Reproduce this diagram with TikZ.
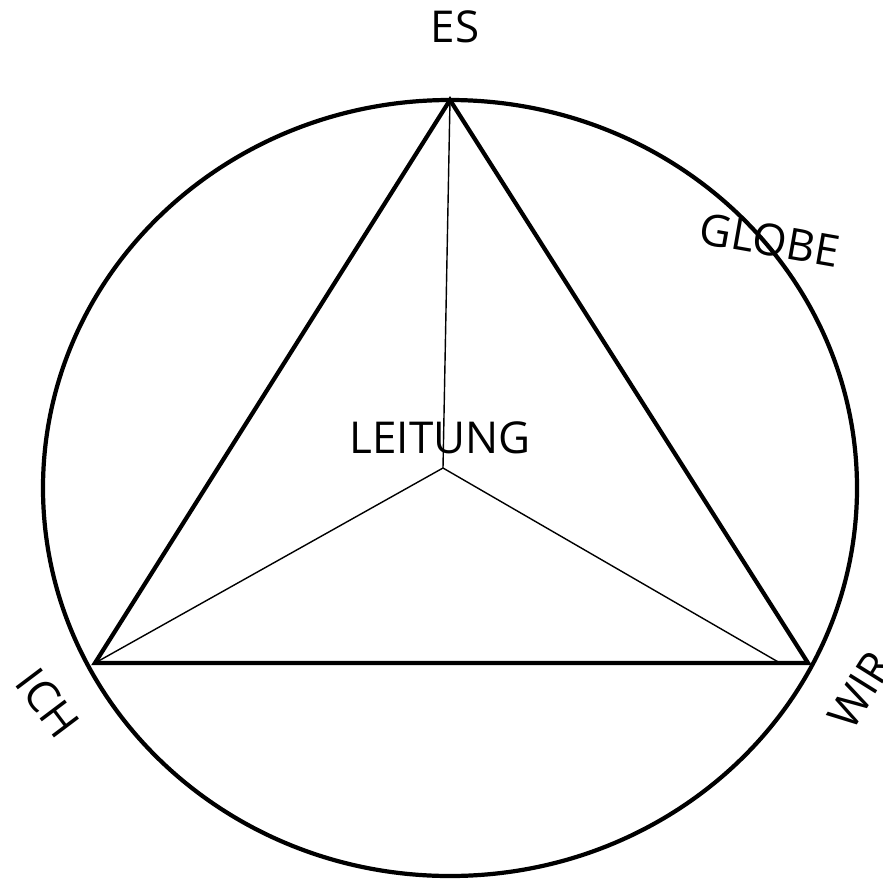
\documentclass[tikz,border=0pt]{standalone}
\usepackage{fontspec}
\setmainfont{Open Sans}
\begin{document}
\begin{tikzpicture}[line width=1.2pt,
  lbl/.style={inner sep=0pt,font=\fontsize{12.5}{15}\selectfont}]
\useasboundingbox (0,0) rectangle (8.83,8.82);
% ---------- globe ----------
\draw (4.50,3.94) ellipse [x radius=4.07cm, y radius=3.88cm];
% ---------- corners of the triangle ----------
\coordinate (es) at (4.50,7.82);
\coordinate (ich) at (0.95,2.19);
\coordinate (wir) at (8.08,2.19);
\coordinate (mid) at (4.43,4.14);
\coordinate (wirend) at (7.80,2.19);
\draw (es) -- (ich) -- (wir) -- cycle;
% ---------- thin spokes to the centre ----------
\draw[line width=0.4pt] (mid) -- (es);
\draw[line width=0.4pt] (mid) -- (ich);
\draw[line width=0.4pt] (mid) -- (wirend);
% ---------- labels ----------
\node[lbl] (lES) at (4.55,8.55) {ES};
\node[lbl] (lLeitung) at (4.40,4.44) {LEITUNG};
\node[lbl,rotate=-10] (lGlobe) at (7.70,6.42) {GLOBE};
\node[lbl,rotate=-53] (lIch) at (0.48,1.79) {ICH};
\node[lbl,rotate=58] (lWir) at (8.60,1.92) {WIR};
\end{tikzpicture}
\end{document}
